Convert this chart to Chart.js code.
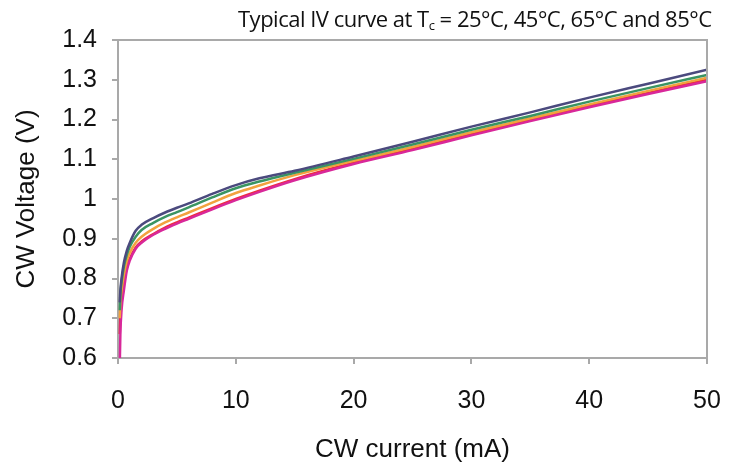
<!DOCTYPE html>
<html>
<head>
<meta charset="utf-8">
<script src="https://cdn.jsdelivr.net/npm/chart.js@4.4.1/dist/chart.umd.min.js"></script>
<style>
  html, body { margin: 0; padding: 0; background: #fff; }
  #wrap { position: relative; width: 736px; height: 465px; }
  #title {
    position: absolute; top: 3px; left: 238px; width: 490px;
    font-family: "Open Sans", sans-serif; font-size: 22px; color: #111;
    white-space: nowrap; letter-spacing: -0.5px;
  }
  #title sub { font-size: 13px; vertical-align: -3px; }
</style>
</head>
<body>
<div id="wrap">
  <canvas id="ivChart" width="736" height="465"></canvas>
  <div id="title">Typical IV curve at T<sub>c</sub> = 25°C, 45°C, 65°C and 85°C</div>
</div>
<script>
// current in mA
const currents = [0.15, 0.2, 0.3, 0.5, 0.75, 1, 1.5, 2, 3, 4, 5, 6, 8, 10, 12, 15, 20, 25, 30, 35, 40, 45, 50];

// voltage in V, one array per curve
const voltsNavy    = [0.74, 0.77, 0.80, 0.84, 0.87, 0.89, 0.92, 0.935, 0.952, 0.966, 0.978, 0.989, 1.013, 1.035, 1.052, 1.071, 1.107, 1.144, 1.182, 1.218, 1.255, 1.29, 1.325];
const voltsGreen   = [0.72, 0.76, 0.79, 0.83, 0.86, 0.88, 0.905, 0.922, 0.94, 0.955, 0.967, 0.979, 1.004, 1.027, 1.044, 1.066, 1.101, 1.137, 1.174, 1.209, 1.245, 1.279, 1.312];
const voltsOrange  = [0.70, 0.74, 0.77, 0.81, 0.845, 0.865, 0.89, 0.905, 0.925, 0.941, 0.954, 0.966, 0.991, 1.015, 1.034, 1.06, 1.096, 1.131, 1.168, 1.203, 1.238, 1.272, 1.305];
const voltsMagenta = [0.58, 0.66, 0.72, 0.77, 0.82, 0.845, 0.875, 0.89, 0.91, 0.925, 0.938, 0.950, 0.974, 0.997, 1.018, 1.047, 1.088, 1.123, 1.16, 1.196, 1.231, 1.264, 1.296];
const voltsRed     = [0.66, 0.71, 0.75, 0.79, 0.83, 0.85, 0.878, 0.893, 0.912, 0.928, 0.941, 0.953, 0.977, 1.0, 1.021, 1.05, 1.091, 1.126, 1.163, 1.199, 1.234, 1.267, 1.300];

// first series is drawn on top
const seriesNames = ['Navy', 'Green', 'Orange', 'Magenta', 'Red'];
const seriesColors = ['#4b4a7e', '#3a9462', '#f2a23e', '#d8289a', '#ee2c3c'];
const seriesVolts = [voltsNavy, voltsGreen, voltsOrange, voltsMagenta, voltsRed];

const axisGray = '#a9a9a9';

const frame = {
  id: 'frame',
  afterDatasetsDraw(chart) {
    const { ctx, chartArea: a } = chart;
    ctx.save();
    ctx.strokeStyle = axisGray;
    ctx.lineWidth = 2;
    ctx.beginPath();
    ctx.moveTo(a.left, a.top);
    ctx.lineTo(a.right, a.top);
    ctx.lineTo(a.right, a.bottom);
    ctx.stroke();
    ctx.restore();
  }
};

const datasets = seriesVolts.map((volts, i) => ({
  label: seriesNames[i],
  data: currents.map((c, j) => ({ x: c, y: volts[j] })),
  borderColor: seriesColors[i],
  borderWidth: 2.5,
  pointRadius: 0,
  cubicInterpolationMode: 'monotone',
  fill: false
}));

Chart.defaults.font.family = '"Liberation Sans", Arial, sans-serif';
Chart.defaults.color = '#111';

new Chart(document.getElementById('ivChart'), {
  type: 'line',
  data: { datasets },
  plugins: [frame],
  options: {
    responsive: false,
    animation: false,
    layout: { padding: { top: 40, right: 29, left: 0, bottom: 0 } },
    plugins: { legend: { display: false }, tooltip: { enabled: false } },
    scales: {
      x: {
        type: 'linear',
        min: 0, max: 50,
        ticks: { stepSize: 10, padding: 22, font: { size: 25 }, color: '#111' },
        grid: { drawOnChartArea: false, tickLength: 6, color: axisGray, lineWidth: 2 },
        border: { color: axisGray, width: 2 },
        title: { display: true, text: 'CW current (mA)', font: { size: 26 }, color: '#111', padding: { top: 2, bottom: 0 } },
        afterFit(scale) {
          scale.height = 107;
          scale.paddingLeft = 0;
          scale.paddingRight = 0;
        }
      },
      y: {
        min: 0.6, max: 1.4,
        ticks: { stepSize: 0.1, padding: 15, font: { size: 25 }, color: '#111',
          callback: v => String(+v.toFixed(1)) },
        grid: { drawOnChartArea: false, tickLength: 6, color: axisGray, lineWidth: 2 },
        border: { color: axisGray, width: 2 },
        title: { display: true, text: 'CW Voltage (V)', font: { size: 26 }, color: '#111', padding: { top: 11, bottom: 0 } },
        afterFit(scale) {
          scale.width = 118;
          scale.paddingTop = 0;
          scale.paddingBottom = 0;
        }
      }
    }
  }
});
</script>
</body>
</html>
